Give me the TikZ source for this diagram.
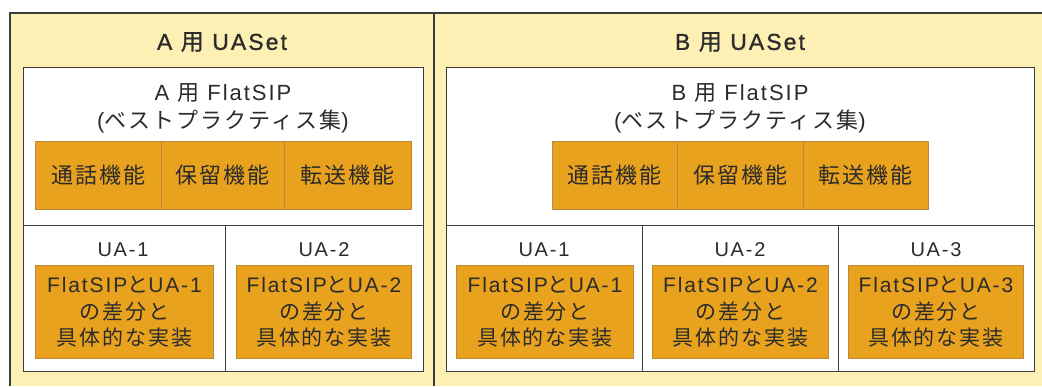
\documentclass[tikz,border=0pt]{standalone}
\usepackage{fontspec}
\setmainfont{Noto Sans CJK JP}[LetterSpace=9]
\newfontfamily\lat{Liberation Sans}[LetterSpace=9]
\newfontfamily\titlecjk{Noto Sans CJK JP}[LetterSpace=9,FakeBold=1]
\newfontfamily\titlelat{Liberation Sans}[LetterSpace=9,FakeBold=1]
\definecolor{bgyellow}{HTML}{FDF0B4}
\definecolor{fnorange}{HTML}{E9A21E}
\definecolor{fnedge}{HTML}{B98A3C}
\definecolor{frame}{HTML}{3C3C3C}
\definecolor{ink}{HTML}{2B2B2B}
\tikzset{
  panel/.style={draw=frame, line width=1.4pt, fill=white, anchor=north west, inner sep=0pt, minimum height=#1},
  cell/.style={draw=fnedge, line width=0.9pt, fill=fnorange, anchor=north west, inner sep=0pt, text=ink},
  fncell/.style={cell, minimum height=68pt, font=\fontsize{22}{24}\selectfont},
  uabox/.style={cell, minimum height=93pt, align=center, font=\fontsize{21}{26.5}\selectfont},
  titletext/.style={text=ink, font=\fontsize{23}{25}\selectfont},
  subtext/.style={text=ink, align=center, font=\fontsize{22}{28}\selectfont},
  ualabel/.style={text=ink, font=\fontsize{20}{22}\selectfont\lat},
}
\begin{document}
\begin{tikzpicture}[x=1pt,y=-1pt]
\useasboundingbox (0,0) rectangle (1042,386);
% outer yellow frame
\fill[bgyellow] (10,13) rectangle (1042,386);
\coordinate (otl) at (10,13);
\coordinate (obl) at (10,386);
\coordinate (otr) at (1042,13);
\coordinate (dtop) at (434,13);
\coordinate (dbot) at (434,386);
\draw[frame, line width=1.4pt] (obl) -- (otl) -- (otr);
\draw[frame, line width=1.4pt] (dtop) -- (dbot);

% ---- A ----
\node[titletext] (atitle) at (222,42) {{\titlelat A }{\titlecjk 用}{\titlelat\ UASet}};
\node[panel=158pt, minimum width=400pt] (aflat) at (23,67) {};
\node[panel=146pt, minimum width=202pt] (aua1) at (23,225) {};
\node[panel=146pt, minimum width=198pt] (aua2) at (225,225) {};
\node[subtext] (aflattxt) at (223,108) {{\lat A }用{\lat\ FlatSIP}\\{\lat (}ベストプラクティス集{\lat )}};
\node[fncell, minimum width=126pt] (af1) at (35,141) {通話機能};
\node[fncell, minimum width=123pt] (af2) at (161,141) {保留機能};
\node[fncell, minimum width=127pt] (af3) at (284,141) {転送機能};
\node[ualabel] (aual1) at (123,250) {UA-1};
\node[ualabel] (aual2) at (324,250) {UA-2};
\node[uabox, minimum width=178pt] (aub1) at (35,265) {{\lat FlatSIP}と{\lat UA-1}\\の差分と\\具体的な実装};
\node[uabox, minimum width=175pt] (aub2) at (236,265) {{\lat FlatSIP}と{\lat UA-2}\\の差分と\\具体的な実装};

% ---- B ----
\node[titletext] (btitle) at (740,42) {{\titlelat B }{\titlecjk 用}{\titlelat\ UASet}};
\node[panel=158pt, minimum width=588pt] (bflat) at (446,67) {};
\node[panel=146pt, minimum width=196pt] (bua1) at (446,225) {};
\node[panel=146pt, minimum width=196pt] (bua2) at (642,225) {};
\node[panel=146pt, minimum width=196pt] (bua3) at (838,225) {};
\node[subtext] (bflattxt) at (740,108) {{\lat B }用{\lat\ FlatSIP}\\{\lat (}ベストプラクティス集{\lat )}};
\node[fncell, minimum width=125pt] (bf1) at (552,141) {通話機能};
\node[fncell, minimum width=126pt] (bf2) at (677,141) {保留機能};
\node[fncell, minimum width=125pt] (bf3) at (803,141) {転送機能};
\node[ualabel] (bual1) at (544,250) {UA-1};
\node[ualabel] (bual2) at (740,250) {UA-2};
\node[ualabel] (bual3) at (936,250) {UA-3};
\node[uabox, minimum width=177pt] (bub1) at (456,265) {{\lat FlatSIP}と{\lat UA-1}\\の差分と\\具体的な実装};
\node[uabox, minimum width=176pt] (bub2) at (652,265) {{\lat FlatSIP}と{\lat UA-2}\\の差分と\\具体的な実装};
\node[uabox, minimum width=175pt] (bub3) at (848,265) {{\lat FlatSIP}と{\lat UA-3}\\の差分と\\具体的な実装};
\end{tikzpicture}
\end{document}
